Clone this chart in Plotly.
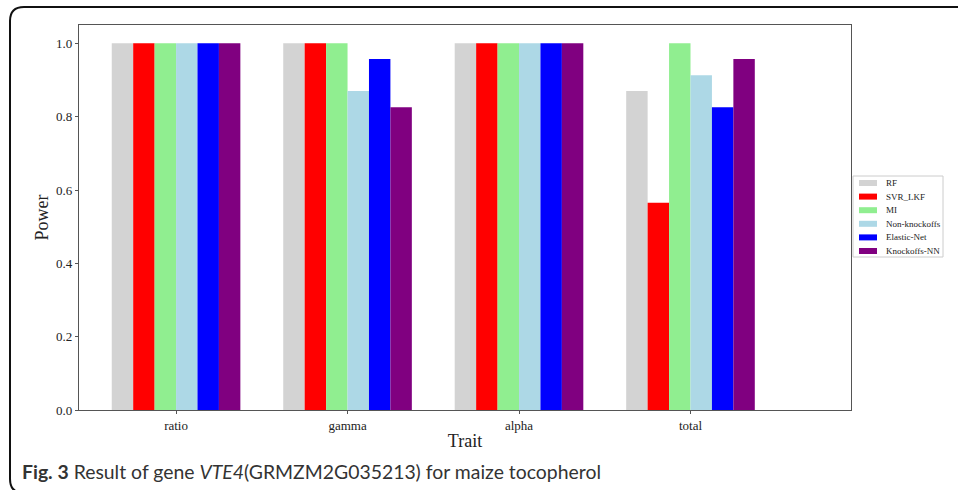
import plotly.graph_objects as go

categories = ["ratio", "gamma", "alpha", "total"]
methods = ["RF", "SVR_LKF", "MI", "Non-knockoffs", "Elastic-Net", "Knockoffs-NN"]
colors = ["#d3d3d3", "#ff0000", "#90ee90", "#add8e6", "#0000ff", "#800080"]
values = {
    "RF":            [1.0, 1.0, 1.0, 0.870],
    "SVR_LKF":       [1.0, 1.0, 1.0, 0.565],
    "MI":            [1.0, 1.0, 1.0, 1.0],
    "Non-knockoffs": [1.0, 0.870, 1.0, 0.913],
    "Elastic-Net":   [1.0, 0.957, 1.0, 0.826],
    "Knockoffs-NN":  [1.0, 0.826, 1.0, 0.957],
}
y_ticks = [0.0, 0.2, 0.4, 0.6, 0.8, 1.0]

W, H = 958, 490
L, R, T, B = 79, 851, 25, 410  # plot area in pixels

def px(x):
    return (x - L) / (R - L)

def py(y):
    return (B - y) / (B - T)

fig = go.Figure()
for m, c in zip(methods, colors):
    fig.add_trace(go.Bar(x=categories, y=values[m], name=m, marker_color=c,
                         marker_line_width=0, showlegend=False))

serif = "Liberation Serif"
fig.update_layout(
    width=W, height=H,
    margin=dict(l=L, r=W - R, t=T, b=H - B, pad=0, autoexpand=False),
    paper_bgcolor="white", plot_bgcolor="white",
    barmode="group", bargap=0.25, bargroupgap=0,
    font=dict(family=serif, color="#222"),
    showlegend=False,
)
fig.update_xaxes(range=[-0.566, 3.936], showline=True, linecolor="#555",
                 linewidth=1.2, mirror=True, ticks="outside", ticklen=3,
                 tickcolor="#555", showgrid=False,
                 tickfont=dict(family=serif, size=13, color="#222"),
                 title=dict(text="Trait", font=dict(family=serif, size=18, color="#222"),
                            standoff=2))
fig.update_yaxes(range=[0, 1.05], showline=True, linecolor="#555", linewidth=1.2,
                 mirror=True, ticks="outside", ticklen=3, tickcolor="#555",
                 showgrid=False, zeroline=False, tickvals=y_ticks, tickformat=".1f",
                 tickfont=dict(family=serif, size=13, color="#222"),
                 title=dict(text="Power", font=dict(family=serif, size=18, color="#222"),
                            standoff=2))

# legend box (drawn from the methods/colors lists)
lx0, ly0, lx1, ly1 = 853, 176, 943, 257
fig.add_shape(type="rect", xref="paper", yref="paper",
              x0=px(lx0), x1=px(lx1), y0=py(ly1), y1=py(ly0),
              line=dict(color="#cccccc", width=1), fillcolor="white")
row0, step = 183, 13.6
for i, (m, c) in enumerate(zip(methods, colors)):
    yc = row0 + i * step
    fig.add_shape(type="rect", xref="paper", yref="paper",
                  x0=px(859), x1=px(877), y0=py(yc + 3), y1=py(yc - 3),
                  line=dict(width=0), fillcolor=c)
    fig.add_annotation(x=px(884), y=py(yc), xref="paper", yref="paper",
                       xanchor="left", yanchor="middle", showarrow=False, text=m,
                       font=dict(family=serif, size=9, color="#222"))

# rounded outer frame
x0, y0, x1, y1, r = 10, 7, 975, 493, 14
path = (f"M {px(x0)},{py(y0 + r)} Q {px(x0)},{py(y0)} {px(x0 + r)},{py(y0)} "
        f"L {px(x1)},{py(y0)} L {px(x1)},{py(y1)} L {px(x0 + r)},{py(y1)} "
        f"Q {px(x0)},{py(y1)} {px(x0)},{py(y1 - r)} Z")
fig.add_shape(type="path", path=path, xref="paper", yref="paper",
              line=dict(color="#111", width=2), fillcolor="rgba(0,0,0,0)", layer="below")

fig.add_annotation(
    x=px(20), y=py(471), xref="paper", yref="paper", xanchor="left", yanchor="middle",
    showarrow=False,
    text="<b>Fig. 3</b> Result of gene <i>VTE4</i>(GRMZM2G035213) for maize tocopherol",
    font=dict(family="Lato", size=19.4, color="#333"),
)

fig.write_html("out.html")
